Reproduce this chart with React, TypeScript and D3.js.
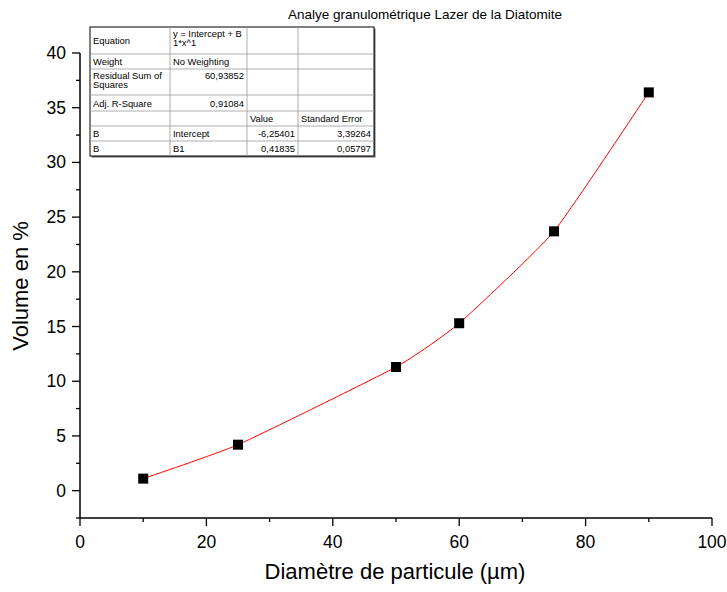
import React from "react";
import * as d3 from "d3";

const diameters = [10, 25, 50, 60, 75, 90];
const volumes = [1.1, 4.2, 11.3, 15.3, 23.7, 36.4];
const xTicks = [0, 20, 40, 60, 80, 100];
const yTicks = [0, 5, 10, 15, 20, 25, 30, 35, 40];

// fit-report table (text as printed by Origin)
const tableRows = [
  ["Equation", "y = Intercept + B\n1*x^1", "", ""],
  ["Weight", "No Weighting", "", ""],
  ["Residual Sum of\nSquares", "60,93852", "", ""],
  ["Adj. R-Square", "0,91084", "", ""],
  ["", "", "Value", "Standard Error"],
  ["B", "Intercept", "-6,25401", "3,39264"],
  ["B", "B1", "0,41835", "0,05797"],
];
const rightAligned = [
  [false, false, false, false],
  [false, false, false, false],
  [false, true, false, false],
  [false, true, false, false],
  [false, false, false, false],
  [false, false, true, true],
  [false, false, true, true],
];

const font = "'Liberation Sans', Arial, sans-serif";

const App = () => {
  const W = 727;
  const H = 592;
  const x = d3.scaleLinear().domain([0, 100]).range([80, 712]);
  const y = d3.scaleLinear().domain([-2.5, 40]).range([518, 53]);

  const data = diameters.map((d, i) => ({ x: d, y: volumes[i] }));
  const line = d3
    .line<{ x: number; y: number }>()
    .x((d) => x(d.x))
    .y((d) => y(d.y))
    .curve(d3.curveCardinal.tension(0.55));

  const xMinor = d3.range(0, 101, 10);
  const yMinor = d3.range(-2.5, 40.1, 2.5);

  // table geometry
  const colX = [90, 170, 247, 298, 374];
  const rowH = [27, 15, 26, 16, 15, 15, 15];
  const rowY = [27];
  rowH.forEach((h) => rowY.push(rowY[rowY.length - 1] + h));
  const tTop = rowY[0];
  const tBottom = rowY[rowY.length - 1];

  return (
    <svg
      width={W}
      height={H}
      style={{ position: "absolute", left: 0, top: 0, background: "#fff" }}
      fontFamily={font}
    >
      <text x={425} y={19} fontSize={13.5} textAnchor="middle">
        Analye granulométrique Lazer de la Diatomite
      </text>

      {/* axes */}
      <line x1={80} x2={80} y1={y(40)} y2={y(-2.5)} stroke="#000" strokeWidth={1.5} />
      <line x1={80} x2={712} y1={y(-2.5)} y2={y(-2.5)} stroke="#000" strokeWidth={1.5} />
      {xMinor.map((t) => (
        <line
          key={"xm" + t}
          x1={x(t)}
          x2={x(t)}
          y1={y(-2.5)}
          y2={y(-2.5) + (t % 20 === 0 ? 8 : 4)}
          stroke="#000"
          strokeWidth={1.3}
        />
      ))}
      {yMinor.map((t) => (
        <line
          key={"ym" + t}
          x1={80}
          x2={80 - (t % 5 === 0 ? 8 : 4)}
          y1={y(t)}
          y2={y(t)}
          stroke="#000"
          strokeWidth={1.3}
        />
      ))}
      {xTicks.map((t) => (
        <text key={"xt" + t} x={x(t)} y={548} fontSize={17.5} textAnchor="middle">
          {t}
        </text>
      ))}
      {yTicks.map((t) => (
        <text key={"yt" + t} x={66} y={y(t) + 6} fontSize={17.5} textAnchor="end">
          {t}
        </text>
      ))}
      <text x={395} y={579} fontSize={22} textAnchor="middle">
        Diamètre de particule (µm)
      </text>
      <text
        transform={`translate(28, ${286}) rotate(-90)`}
        fontSize={22}
        textAnchor="middle"
      >
        Volume en %
      </text>

      {/* fit line + points */}
      <path d={line(data) || ""} fill="none" stroke="#ff0000" strokeWidth={1} />
      {data.map((d, i) => (
        <rect
          key={"p" + i}
          x={x(d.x) - 5}
          y={y(d.y) - 5}
          width={10}
          height={10}
          fill="#000"
        />
      ))}

      {/* table */}
      <rect
        x={colX[0] + 1.5}
        y={tTop + 1.5}
        width={colX[4] - colX[0]}
        height={tBottom - tTop}
        fill="#666"
      />
      <rect
        x={colX[0]}
        y={tTop}
        width={colX[4] - colX[0]}
        height={tBottom - tTop}
        fill="#fff"
        stroke="#000"
        strokeWidth={1}
      />
      {rowY.slice(1, -1).map((ry, i) => (
        <line key={"rl" + i} x1={colX[0]} x2={colX[4]} y1={ry} y2={ry} stroke="#999" strokeWidth={0.8} />
      ))}
      {colX.slice(1, -1).map((cx, i) => (
        <line key={"cl" + i} x1={cx} x2={cx} y1={tTop} y2={tBottom} stroke="#999" strokeWidth={0.8} />
      ))}
      {tableRows.map((row, r) =>
        row.map((cell, c) => {
          if (!cell) return null;
          const lines = cell.split("\n");
          const right = rightAligned[r][c];
          const tx = right ? colX[c + 1] - 3 : colX[c] + 3;
          const multi = lines.length > 1;
          const baseY = multi ? rowY[r] + 9.5 : rowY[r] + rowH[r] / 2 + 3.5;
          return (
            <text
              key={`c${r}-${c}`}
              x={tx}
              y={r === 2 && c === 1 ? rowY[r] + 9.5 : baseY}
              fontSize={9.4}
              textAnchor={right ? "end" : "start"}
            >
              {lines.map((l, k) => (
                <tspan key={k} x={tx} dy={k === 0 ? 0 : 9.5}>
                  {l}
                </tspan>
              ))}
            </text>
          );
        })
      )}
    </svg>
  );
};

export default App;
